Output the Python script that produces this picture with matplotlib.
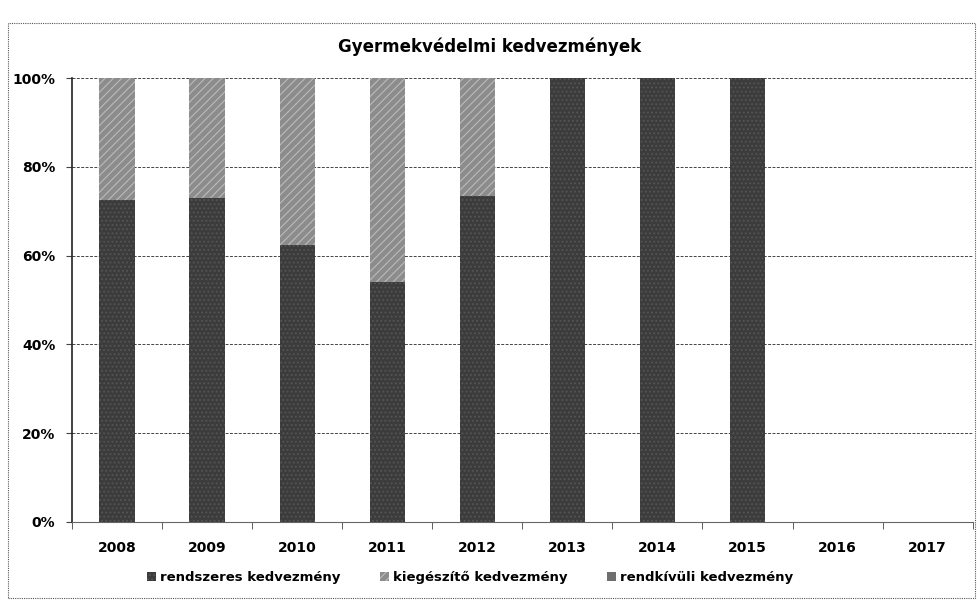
import numpy as np
import matplotlib.pyplot as plt
from matplotlib.patches import Rectangle
from matplotlib.ticker import PercentFormatter

years = ['2008', '2009', '2010', '2011', '2012', '2013', '2014', '2015', '2016', '2017']
rendszeres = [72.5, 73, 62.5, 54, 73.5, 100, 100, 100, 0, 0]
kiegeszito = [27.5, 27, 37.5, 46, 26.5, 0, 0, 0, 0, 0]
rendkivuli = [0, 0, 0, 0, 0, 0, 0, 0, 0, 0]
labels = ['rendszeres kedvezmény', 'kiegészítő kedvezmény', 'rendkívüli kedvezmény']

plt.rcParams['font.family'] = ['DejaVu Sans']
plt.rcParams['hatch.color'] = '#b0b0b0'
plt.rcParams['hatch.linewidth'] = 0.8

fig = plt.figure(figsize=(9.79, 6.02), dpi=100)
fig.patches.append(Rectangle((0.008, 0.007), 0.988, 0.955, transform=fig.transFigure,
                             fill=False, ec='#555555', lw=0.8, ls=(0, (1, 1))))

ax = fig.add_axes([0.0735, 0.133, 0.920, 0.737])
x = np.arange(len(years))
w = 0.39
ax.bar(x, rendszeres, w, color='#3c3c3c', hatch='....', edgecolor='#555555', lw=0, label=labels[0], zorder=3)
ax.bar(x, kiegeszito, w, bottom=rendszeres, color='#8c8c8c', hatch='////', edgecolor='#bbbbbb', lw=0, label=labels[1], zorder=3)
bot2 = [a + b for a, b in zip(rendszeres, kiegeszito)]
ax.bar(x, rendkivuli, w, bottom=bot2, color='#6e6e6e', lw=0, label=labels[2], zorder=3)

ax.set_xlim(-0.5, len(years) - 0.5)
ax.set_ylim(0, 100)
ax.set_yticks(range(0, 101, 20))
ax.yaxis.set_major_formatter(PercentFormatter(decimals=0))
ax.grid(axis='y', color='#444444', ls=(0, (3, 1.5)), lw=0.7, zorder=0)

ax.set_xticks(x)
ax.set_xticklabels(years)
ax.set_xticks(np.arange(-0.5, len(years), 1), minor=True)
ax.tick_params(axis='x', which='major', length=0, pad=14, labelsize=10)
ax.tick_params(axis='x', which='minor', length=5, direction='out', color='#444444')
ax.tick_params(axis='y', length=4, color='#444444', labelsize=10, pad=8)
for lab in ax.get_xticklabels() + ax.get_yticklabels():
    lab.set_fontweight('bold')

for s in ['top', 'right']:
    ax.spines[s].set_visible(False)
ax.spines['left'].set_color('#222222')
ax.spines['left'].set_linewidth(1.2)
ax.spines['bottom'].set_color('#666666')
ax.spines['bottom'].set_linewidth(0.8)

fig.text(0.50, 0.922, 'Gyermekvédelmi kedvezmények', ha='center', va='center',
         fontsize=12, fontweight='bold')

leg = fig.legend(loc='center', bbox_to_anchor=(0.48, 0.040), ncol=3, frameon=False,
                 handlelength=0.7, handleheight=0.7, columnspacing=3.0, handletextpad=0.3,
                 prop={'weight': 'bold', 'size': 9.5})

fig.savefig('out.png', dpi=100)
